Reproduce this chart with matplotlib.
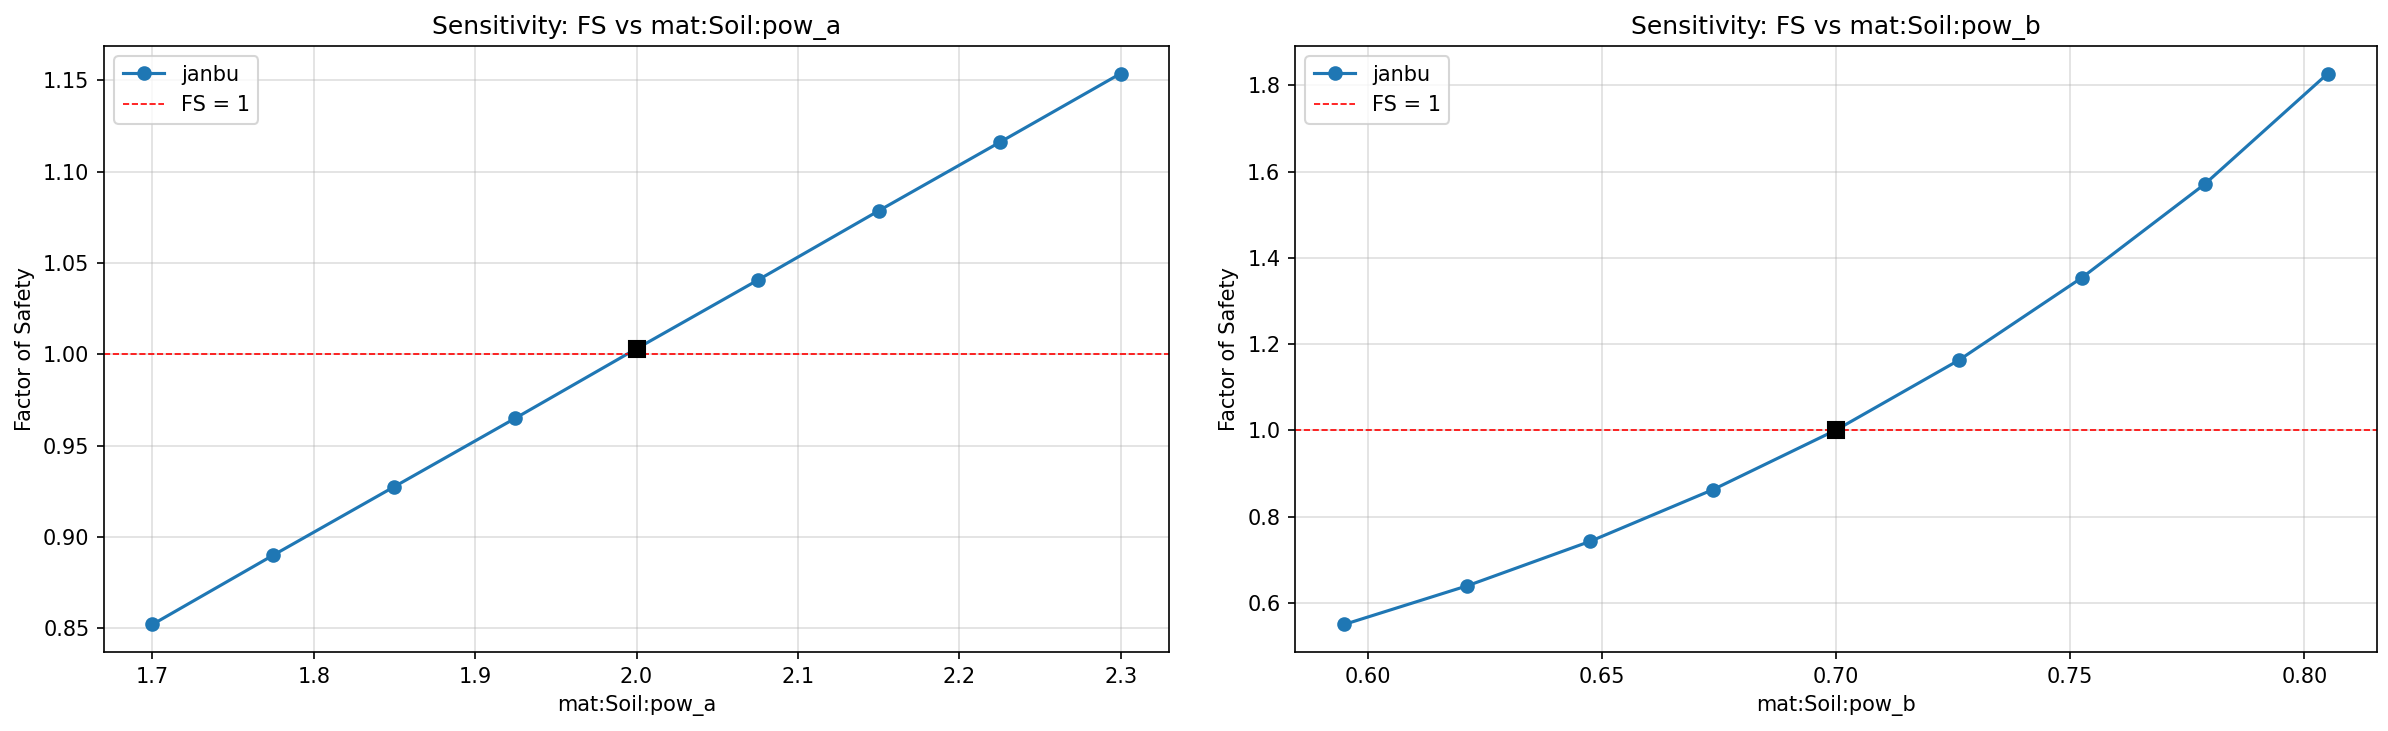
import numpy as np
import matplotlib
matplotlib.use("Agg")
import matplotlib.pyplot as plt

# sampled parameter values and resulting factor of safety
pow_a = [1.7, 1.775, 1.85, 1.925, 2.0, 2.075, 2.15, 2.225, 2.3]
fs_a = [0.852, 0.890, 0.9275, 0.965, 1.003, 1.0405, 1.0785, 1.116, 1.1537]
base_a = 2.0
base_fs_a = 1.003

pow_b = [0.595, 0.62125, 0.6475, 0.67375, 0.70, 0.72625, 0.7525, 0.77875, 0.805]
fs_b = [0.5505, 0.640, 0.743, 0.863, 1.001, 1.163, 1.354, 1.571, 1.827]
base_b = 0.70
base_fs_b = 1.001

panels = [
    ("mat:Soil:pow_a", pow_a, fs_a, base_a, base_fs_a),
    ("mat:Soil:pow_b", pow_b, fs_b, base_b, base_fs_b),
]

W, H = 2388, 731
fig, axs = plt.subplots(1, 2, figsize=(W / 150, H / 150), dpi=150)

boxes = [(104, 1169), (1295, 2377)]
bottom, top = 1 - 652 / H, 1 - 46 / H
for ax, (l, r) in zip(axs, boxes):
    ax.set_position([l / W, bottom, (r - l) / W, top - bottom])

for ax, (name, xs, ys, bx, by) in zip(axs, panels):
    ax.plot(xs, ys, marker='o', color='#1f77b4', label='janbu')
    ax.plot([bx], [by], marker='s', color='black', markersize=8, linestyle='none', zorder=5)
    ax.axhline(1.0, color='red', linestyle='--', linewidth=0.8, label='FS = 1')
    ax.set_title(f"Sensitivity: FS vs {name}")
    ax.set_xlabel(name)
    ax.set_ylabel("Factor of Safety")
    ax.grid(True, alpha=0.4)
    ax.legend(loc='upper left')

fig.savefig("out.png", dpi=150)
